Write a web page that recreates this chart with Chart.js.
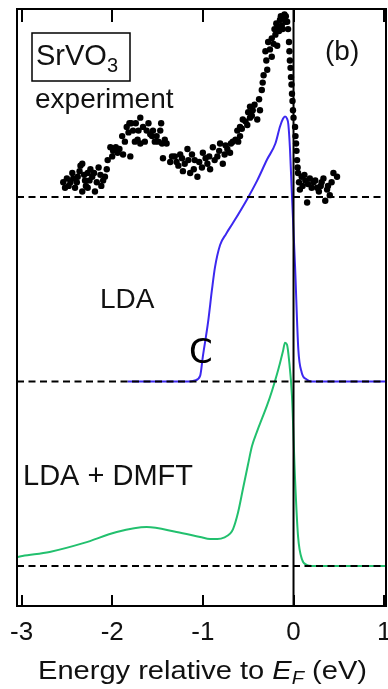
<!DOCTYPE html>
<html>
<head>
<meta charset="utf-8">
<script src="https://cdn.jsdelivr.net/npm/chart.js@4.4.1/dist/chart.umd.min.js"></script>
<style>
  html, body { margin: 0; padding: 0; background: #ffffff; }
  #wrap { width: 388px; height: 689px; position: relative; }
</style>
</head>
<body>
<div id="wrap"><canvas id="c" width="388" height="689"></canvas></div>
<script>
// Energy axis ticks (eV, relative to the Fermi level)
const energyTicks = [-3, -2, -1, 0, 1];

// Vertical offsets used to stack the three spectra
const experimentOffset = 2;
const ldaOffset = 1;
const dmftOffset = 0;

// Photoemission spectrum of SrVO3 (intensity above its own baseline)
const expEnergy = [
  -2.54, -2.52, -2.50, -2.48, -2.46, -2.44, -2.43, -2.41, -2.39, -2.38,
  -2.36, -2.35, -2.33, -2.33, -2.31, -2.30, -2.29, -2.27, -2.27, -2.25,
  -2.24, -2.22, -2.20, -2.19, -2.17, -2.15, -2.13, -2.12, -2.10, -2.08,
  -2.06, -2.05, -2.02, -2.00, -1.99, -1.96, -1.94, -1.92, -1.89, -1.88,
  -1.86, -1.84, -1.82, -1.81, -1.80, -1.79, -1.77, -1.75, -1.74, -1.72,
  -1.71, -1.69, -1.69, -1.66, -1.64, -1.62, -1.60, -1.58, -1.56, -1.55,
  -1.53, -1.51, -1.49, -1.47, -1.46, -1.45, -1.44, -1.42, -1.40, -1.36,
  -1.34, -1.31, -1.29, -1.27, -1.25, -1.23, -1.22, -1.20, -1.17, -1.16,
  -1.14, -1.12, -1.10, -1.09, -1.06, -1.04, -1.01, -1.00, -0.97, -0.95,
  -0.93, -0.92, -0.89, -0.87, -0.84, -0.82, -0.81, -0.78, -0.76, -0.75,
  -0.73, -0.70, -0.69, -0.67, -0.64, -0.62, -0.61, -0.59, -0.59, -0.57,
  -0.56, -0.53, -0.51, -0.50, -0.48, -0.48, -0.46, -0.45, -0.43, -0.40,
  -0.38, -0.37, -0.35, -0.34, -0.33, -0.31, -0.30, -0.29, -0.28, -0.26,
  -0.24, -0.24, -0.22, -0.21, -0.20, -0.19, -0.18, -0.17, -0.16, -0.15,
  -0.14, -0.13, -0.12, -0.12, -0.10, -0.09, -0.085, -0.07, -0.06, -0.05,
  -0.045, -0.04, -0.033, -0.028, -0.022, -0.017, -0.011, -0.006, 0.0, 0.017,
  0.022, 0.028, 0.033, 0.039, 0.045, 0.05, 0.06, 0.07, 0.09, 0.10,
  0.12, 0.13, 0.15, 0.16, 0.18, 0.20, 0.22, 0.24, 0.26, 0.28,
  0.30, 0.31, 0.33, 0.35, 0.37, 0.38, 0.40, 0.42, 0.44, 0.48
];
const expIntensity = [
  0.08, 0.05, 0.10, 0.06, 0.08, 0.13, 0.10, 0.05, 0.08, 0.11,
  0.14, 0.17, 0.18, 0.03, 0.12, 0.09, 0.06, 0.05, 0.13, 0.09,
  0.15, 0.11, 0.13, 0.03, 0.08, 0.16, 0.12, 0.06, 0.09, 0.11,
  0.15, 0.20, 0.27, 0.22, 0.25, 0.27, 0.24, 0.26, 0.33, 0.23,
  0.30, 0.38, 0.35, 0.40, 0.22, 0.40, 0.36, 0.30, 0.40, 0.31,
  0.36, 0.43, 0.29, 0.38, 0.30, 0.36, 0.40, 0.34, 0.33, 0.36,
  0.30, 0.33, 0.30, 0.36, 0.40, 0.29, 0.21, 0.31, 0.29, 0.19,
  0.22, 0.22, 0.19, 0.17, 0.23, 0.21, 0.14, 0.18, 0.26, 0.20,
  0.13, 0.23, 0.15, 0.20, 0.11, 0.19, 0.16, 0.24, 0.21, 0.18,
  0.22, 0.15, 0.27, 0.20, 0.22, 0.25, 0.29, 0.18, 0.23, 0.28,
  0.26, 0.24, 0.29, 0.30, 0.31, 0.36, 0.30, 0.33, 0.38, 0.37,
  0.42, 0.41, 0.39, 0.46, 0.43, 0.49, 0.44, 0.47, 0.50, 0.42,
  0.53, 0.47, 0.58, 0.62, 0.66, 0.79, 0.74, 0.69, 0.84, 0.80,
  0.76, 0.86, 0.83, 0.91, 0.88, 0.94, 0.82, 0.92, 0.90, 0.96,
  0.98, 0.93, 0.97, 0.91, 0.99, 0.95, 0.98, 0.95, 0.91, 0.84,
  0.79, 0.74, 0.70, 0.65, 0.61, 0.56, 0.52, 0.47, 0.43, 0.38,
  0.33, 0.29, 0.25, 0.20, 0.16, 0.13, 0.08, 0.04, 0.11, 0.06,
  0.12, 0.09, -0.03, 0.07, 0.10, 0.05, 0.08, 0.09, 0.05, 0.03,
  0.06, 0.08, 0.10, -0.02, 0.04, 0.06, 0.01, 0.08, 0.13, 0.11
];

// LDA density of states
const ldaEnergy = [
  -1.83, -1.14, -1.09, -1.03, -1.00, -0.943, -0.899, -0.866, -0.81, -0.744,
  -0.667, -0.513, -0.40, -0.292, -0.20, -0.149, -0.115, -0.094, -0.072, -0.057,
  -0.039, -0.02, 0.017, 0.053, 0.09, 0.145, 0.2, 1.02
];
const ldaIntensity = [
  0, 0, 0.005, 0.03, 0.136, 0.32, 0.50, 0.62, 0.74, 0.80,
  0.86, 0.987, 1.09, 1.203, 1.29, 1.382, 1.425, 1.436, 1.425, 1.393,
  1.26, 1.04, 0.623, 0.173, 0.049, 0.011, 0, 0
];

// LDA + DMFT spectral function
const dmftEnergy = [
  -3.05, -2.99, -2.69, -2.31, -1.95, -1.62, -1.29, -1.03, -0.92, -0.84,
  -0.76, -0.70, -0.667, -0.612, -0.557, -0.502, -0.458, -0.402, -0.347, -0.292,
  -0.237, -0.182, -0.149, -0.116, -0.094, -0.072, -0.05, -0.017, 0.017, 0.05,
  0.094, 0.149, 0.2, 1.02
];
const dmftIntensity = [
  0.048, 0.054, 0.076, 0.125, 0.184, 0.211, 0.184, 0.157, 0.146, 0.146,
  0.155, 0.175, 0.20, 0.29, 0.42, 0.55, 0.65, 0.73, 0.80, 0.87,
  0.95, 1.04, 1.10, 1.165, 1.21, 1.20, 1.12, 0.92, 0.47, 0.16,
  0.035, 0.005, 0, 0
];

const X_MIN = -3.05, X_MAX = 1.02;
const Y_MIN = -0.217, Y_MAX = 3.019;

const pts = (xs, ys, off) => xs.map((x, i) => ({ x: x, y: ys[i] + off }));
const hline = (off) => [{ x: X_MIN, y: off }, { x: X_MAX, y: off }];

const FONT = '"Liberation Sans", Arial, Helvetica, sans-serif';
const INK = '#111111';

// Frame, inward ticks, text labels and the axis title
const decorations = {
  id: 'decorations',
  afterDraw(chart) {
    const { ctx, chartArea: a, scales: { x } } = chart;
    ctx.save();
    ctx.strokeStyle = '#000';
    ctx.lineWidth = 2;
    ctx.strokeRect(a.left, a.top, a.right - a.left, a.bottom - a.top);
    ctx.beginPath();
    energyTicks.forEach(v => {
      const px = Math.round(x.getPixelForValue(v));
      ctx.moveTo(px, a.top); ctx.lineTo(px, a.top + 13);
      ctx.moveTo(px, a.bottom); ctx.lineTo(px, a.bottom - 11);
    });
    ctx.stroke();

    ctx.fillStyle = INK;
    ctx.textBaseline = 'alphabetic';
    ctx.textAlign = 'left';

    // compound box
    ctx.font = '29px ' + FONT;
    ctx.fillText('SrVO', 36, 65);
    const w = ctx.measureText('SrVO').width;
    ctx.font = '20px ' + FONT;
    ctx.fillText('3', 36 + w, 72);
    ctx.lineWidth = 1.5;
    ctx.strokeRect(32, 33, 98, 48);

    ctx.font = '28px ' + FONT;
    ctx.fillText('experiment', 35, 108);
    ctx.fillText('(b)', 325, 60);
    ctx.fillText('LDA', 100, 308);
    ctx.font = '29px ' + FONT;
    ctx.fillText('LDA + DMFT', 23, 485);

    ctx.font = '34px "DejaVu Sans", sans-serif';
    ctx.fillStyle = '#000';
    ctx.fillText('C', 189, 363);

    // axis title with italic E_F, stretched to its printed width
    ctx.fillStyle = INK;
    const parts = [
      { t: 'Energy relative to ', f: '26px ' + FONT, dy: 0 },
      { t: 'E', f: 'italic 26px ' + FONT, dy: 0 },
      { t: 'F', f: 'italic 18px ' + FONT, dy: 5 },
      { t: ' (eV)', f: '26px ' + FONT, dy: 0 }
    ];
    let total = 0;
    parts.forEach(p => { ctx.font = p.f; total += ctx.measureText(p.t).width; });
    const titleLeft = 38, titleWidth = 329;
    ctx.translate(titleLeft, 679);
    ctx.scale(titleWidth / total, 1);
    let cx = 0;
    parts.forEach(p => {
      ctx.font = p.f;
      ctx.fillText(p.t, cx, p.dy);
      cx += ctx.measureText(p.t).width;
    });
    ctx.restore();
  }
};

new Chart(document.getElementById('c'), {
  type: 'scatter',
  data: {
    datasets: [
      {
        label: 'E_F',
        data: [{ x: 0, y: Y_MIN }, { x: 0, y: Y_MAX }],
        showLine: true, borderColor: '#000', borderWidth: 2,
        pointRadius: 0, order: 0
      },
      {
        label: 'baselines',
        data: hline(experimentOffset).concat([{ x: NaN, y: NaN }], hline(ldaOffset), [{ x: NaN, y: NaN }], hline(dmftOffset)),
        showLine: true, spanGaps: false, borderColor: '#000', borderWidth: 2,
        borderDash: [7, 4.5], pointRadius: 0, order: 1
      },
      {
        label: 'experiment',
        data: pts(expEnergy, expIntensity, experimentOffset),
        showLine: false, pointRadius: 3.2, pointBackgroundColor: '#000',
        pointBorderWidth: 0, order: 2
      },
      {
        label: 'LDA',
        data: pts(ldaEnergy, ldaIntensity, ldaOffset),
        showLine: true, borderColor: '#3c28f0', borderWidth: 2,
        cubicInterpolationMode: 'monotone', pointRadius: 0, order: 3
      },
      {
        label: 'LDA + DMFT',
        data: pts(dmftEnergy, dmftIntensity, dmftOffset),
        showLine: true, borderColor: '#22c06e', borderWidth: 2,
        cubicInterpolationMode: 'monotone', pointRadius: 0, order: 3
      }
    ]
  },
  options: {
    responsive: false,
    animation: false,
    devicePixelRatio: 1,
    layout: { autoPadding: false, padding: { left: 17, right: 2, top: 9, bottom: 0 } },
    plugins: { legend: { display: false }, tooltip: { enabled: false } },
    scales: {
      x: {
        type: 'linear', min: X_MIN, max: X_MAX,
        grid: { display: false, drawTicks: false },
        border: { display: false },
        afterBuildTicks: s => { s.ticks = energyTicks.map(v => ({ value: v })); },
        afterFit: s => { s.height = 83; s.paddingLeft = 0; s.paddingRight = 0; },
        ticks: {
          color: INK, padding: 11, maxRotation: 0, autoSkip: false,
          font: { family: FONT, size: 26 },
          callback: v => String(v)
        }
      },
      y: {
        type: 'linear', min: Y_MIN, max: Y_MAX, display: false
      }
    }
  },
  plugins: [decorations]
});
</script>
</body>
</html>
